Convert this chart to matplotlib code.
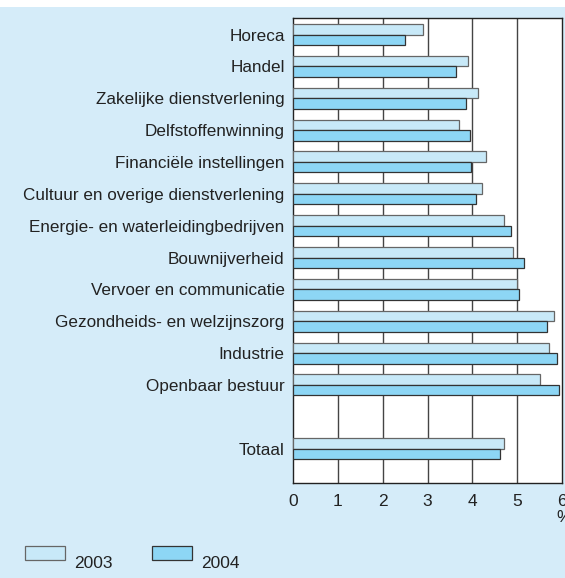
import numpy as np
import matplotlib
matplotlib.use('Agg')
import matplotlib.pyplot as plt
from matplotlib.patches import Rectangle

plt.rcParams.update({
    "font.family": ["Liberation Sans", "DejaVu Sans"],
    "font.size": 12,
})

categories = ['Horeca', 'Handel', 'Zakelijke dienstverlening', 'Delfstoffenwinning',
              'Financiële instellingen', 'Cultuur en overige dienstverlening',
              'Energie- en waterleidingbedrijven', 'Bouwnijverheid',
              'Vervoer en communicatie', 'Gezondheids- en welzijnszorg',
              'Industrie', 'Openbaar bestuur', 'Totaal']
v2003 = [2.91, 3.91, 4.12, 3.71, 4.31, 4.21, 4.70, 4.91, 5.00, 5.82, 5.71, 5.50, 4.71]
v2004 = [2.50, 3.64, 3.85, 3.95, 3.97, 4.09, 4.86, 5.15, 5.03, 5.67, 5.88, 5.93, 4.61]
xticks = [0, 1, 2, 3, 4, 5, 6]

BG = '#d5ecf9'
C03 = '#c8e9f8'
C04 = '#8dd6f5'
TXT = '#222222'

fig = plt.figure(figsize=(5.65, 5.78), dpi=100, facecolor=BG)
# white strip at the top
fig.patches.append(Rectangle((0, 1 - 7 / 578), 1, 7 / 578, transform=fig.transFigure,
                             facecolor='white', edgecolor='none', zorder=0))

ax = fig.add_axes([293 / 565, 1 - 483 / 578, (562 - 293) / 565, (483 - 18) / 578])
ax.set_facecolor('white')

pos = np.array(list(range(12)) + [13], dtype=float)
h = 0.33
ax.barh(pos - h / 2, v2003, height=h, color=C03, edgecolor='#666666', linewidth=0.9, zorder=3)
ax.barh(pos + h / 2, v2004, height=h, color=C04, edgecolor='#333333', linewidth=0.9, zorder=3)

ax.set_xlim(0, 6)
ax.set_ylim(14.08, -0.52)
ax.set_xticks(xticks)
ax.set_xticklabels([str(t) for t in xticks], fontsize=12.5, color=TXT)
ax.set_yticks(pos)
ax.set_yticklabels(categories, fontsize=12.3, color=TXT)
ax.tick_params(axis='both', length=0)
ax.tick_params(axis='y', pad=6)
ax.tick_params(axis='x', pad=8)
for x in xticks[1:-1]:
    ax.axvline(x, color='#444444', linewidth=1.0, zorder=1)
for s in ax.spines.values():
    s.set_color(TXT)
    s.set_linewidth(1.0)

fig.text(556 / 565, 1 - 518 / 578, '%', ha='left', va='center', fontsize=12.5, color=TXT)

# legend
for x0, col, ec, lab in [(25, C03, '#666666', '2003'), (152, C04, '#333333', '2004')]:
    fig.patches.append(Rectangle((x0 / 565, 1 - 560 / 578), 40 / 565, 14 / 578,
                                 transform=fig.transFigure, facecolor=col,
                                 edgecolor=ec, linewidth=0.9))
    fig.text((x0 + 49) / 565, 1 - 563 / 578, lab, ha='left', va='center',
             fontsize=12.5, color=TXT)

fig.savefig('out.png', dpi=100, facecolor=BG)
